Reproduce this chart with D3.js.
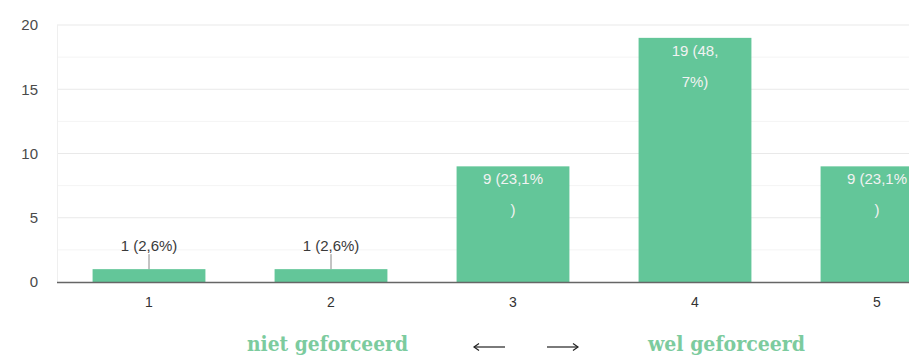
<!DOCTYPE html>
<html>
<head>
<meta charset="utf-8">
<script src="https://cdn.jsdelivr.net/npm/d3@7"></script>
<style>
  html, body { margin: 0; padding: 0; background: #fff; }
  svg { display: block; }
</style>
</head>
<body>
<svg id="chart" width="909" height="356"></svg>
<script>
// Answer counts on a 1–5 scale
const categories = ["1", "2", "3", "4", "5"];
const counts = [1, 1, 9, 19, 9];
const labelLines = [
  ["1 (2,6%)"],
  ["1 (2,6%)"],
  ["9 (23,1%", ")"],
  ["19 (48,", "7%)"],
  ["9 (23,1%", ")"]
];
const yTicks = [0, 5, 10, 15, 20];
const leftCaption = "niet geforceerd";
const rightCaption = "wel geforceerd";

const svg = d3.select("#chart");
const font = "'Liberation Sans', Arial, sans-serif";
const barColor = "#63c699";

const plotLeft = 57, plotRight = 909;
const x = d3.scaleBand().domain(categories).range([58, 968]).paddingInner(0.38).paddingOuter(0.19);
const y = d3.scaleLinear().domain([0, 20]).range([282, 25]);

// minor gridlines
const minor = d3.range(2.5, 20, 5);
svg.append("g").selectAll("line").data(minor).join("line")
  .attr("x1", plotLeft).attr("x2", plotRight)
  .attr("y1", d => y(d)).attr("y2", d => y(d))
  .attr("stroke", "#f4f4f4").attr("stroke-width", 1);

// major gridlines
svg.append("g").selectAll("line").data(yTicks.filter(d => d > 0)).join("line")
  .attr("x1", plotLeft).attr("x2", plotRight)
  .attr("y1", d => y(d)).attr("y2", d => y(d))
  .attr("stroke", "#e9e9e9").attr("stroke-width", 1.2);

// left edge
svg.append("line")
  .attr("x1", plotLeft + 0.5).attr("x2", plotLeft + 0.5)
  .attr("y1", y(20)).attr("y2", y(0))
  .attr("stroke", "#efefef");

// y axis labels
const yAxis = d3.axisLeft(y).tickValues(yTicks).tickSize(0).tickPadding(0);
const gy = svg.append("g").attr("transform", "translate(38,0)").call(yAxis);
gy.select(".domain").remove();
gy.selectAll("text").attr("font-family", font).attr("font-size", 15).attr("fill", "#4a4a4a");

// bars
const data = categories.map((c, i) => ({ c, v: counts[i], lines: labelLines[i] }));
svg.append("g").selectAll("rect").data(data).join("rect")
  .attr("x", d => x(d.c)).attr("width", x.bandwidth())
  .attr("y", d => y(d.v)).attr("height", d => y(0) - y(d.v))
  .attr("fill", barColor);

// baseline
svg.append("line")
  .attr("x1", plotLeft).attr("x2", plotRight)
  .attr("y1", y(0) + 0.5).attr("y2", y(0) + 0.5)
  .attr("stroke", "#666").attr("stroke-width", 1.5);

// x axis labels
const xAxis = d3.axisBottom(x).tickSize(0).tickPadding(0);
const gx = svg.append("g").attr("transform", `translate(0,307)`).call(xAxis);
gx.select(".domain").remove();
gx.selectAll("text").attr("font-family", font).attr("font-size", 14).attr("fill", "#333")
  .attr("dy", 0);

// value labels
const labels = svg.append("g");
data.forEach(d => {
  const cx = x(d.c) + x.bandwidth() / 2;
  if (d.v < 3) {
    labels.append("line")
      .attr("x1", cx).attr("x2", cx)
      .attr("y1", y(d.v)).attr("y2", y(d.v) - 15)
      .attr("stroke", "#888").attr("stroke-width", 1);
    labels.append("text")
      .attr("x", cx).attr("y", y(d.v) - 18)
      .attr("text-anchor", "middle")
      .attr("font-family", font).attr("font-size", 15).attr("fill", "#3a3a3a")
      .text(d.lines[0]);
  } else {
    d.lines.forEach((t, k) => {
      labels.append("text")
        .attr("x", cx).attr("y", y(d.v) + 18 + k * 31)
        .attr("text-anchor", "middle")
        .attr("font-family", font).attr("font-size", 15).attr("fill", "#f2f2f2")
        .text(t);
    });
  }
});

// scale captions below the chart
const capFont = "'DejaVu Serif Condensed', 'DejaVu Serif', serif";
const capColor = "#7ccb9e";
svg.append("text").attr("x", 247).attr("y", 351)
  .attr("font-family", capFont).attr("font-size", 20).attr("font-weight", "bold")
  .attr("fill", capColor).attr("textLength", 161).attr("lengthAdjust", "spacingAndGlyphs")
  .text(leftCaption);
svg.append("text").attr("x", 648).attr("y", 351)
  .attr("font-family", capFont).attr("font-size", 20).attr("font-weight", "bold")
  .attr("fill", capColor).attr("textLength", 157).attr("lengthAdjust", "spacingAndGlyphs")
  .text(rightCaption);

// arrows between captions
const arrows = svg.append("g").attr("stroke", "#222").attr("stroke-width", 1.2).attr("fill", "none");
arrows.append("line").attr("x1", 474).attr("x2", 505).attr("y1", 347).attr("y2", 347);
arrows.append("path").attr("d", "M479,343.5 L474,347 L479,350.5");
arrows.append("line").attr("x1", 547).attr("x2", 578).attr("y1", 347).attr("y2", 347);
arrows.append("path").attr("d", "M573,343.5 L578,347 L573,350.5");
</script>
</body>
</html>
